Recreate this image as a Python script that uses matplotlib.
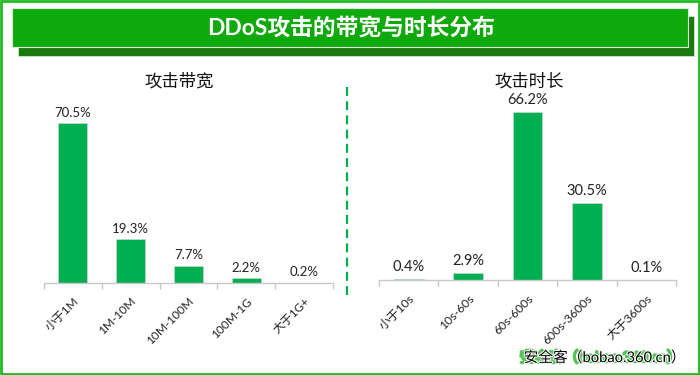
import matplotlib
matplotlib.use("Agg")
import matplotlib.pyplot as plt
import matplotlib.patheffects as pe
from matplotlib.patches import Rectangle, Ellipse
from matplotlib.lines import Line2D
import numpy as np

plt.rcParams['font.family'] = ['Lato', 'Noto Sans CJK SC', 'DejaVu Sans']

title = "DDoS攻击的带宽与时长分布"
left_title = "攻击带宽"
right_title = "攻击时长"
left_cats = ["小于1M", "1M-10M", "10M-100M", "100M-1G", "大于1G+"]
left_vals = [70.5, 19.3, 7.7, 2.2, 0.2]
right_cats = ["小于10s", "10s-60s", "60s-600s", "600s-3600s", "大于3600s"]
right_vals = [0.4, 2.9, 66.2, 30.5, 0.1]
watermark = "安全客（bobao.360.cn）"

W, H = 700, 375
fig = plt.figure(figsize=(W / 100, H / 100), dpi=100, facecolor="white")

def fx(x): return x / W
def fy(y): return 1 - y / H
def frect(x0, y0, x1, y1, **kw):
    fig.add_artist(Rectangle((fx(x0), fy(y1)), (x1 - x0) / W, (y1 - y0) / H,
                             transform=fig.transFigure, **kw))

# frame and banner
frect(1, 1, 699, 374, facecolor="none", edgecolor="#22B822", linewidth=2)
frect(18, 16, 694, 56, facecolor="#1A7A10", edgecolor="#CFE8CC", linewidth=0.6)
frect(12, 8, 688, 47, facecolor="#0FA90B", edgecolor="#D5EDD2", linewidth=0.8)
fig.text(fx(351), fy(28), title, color="white", fontsize=16.4, fontweight="bold",
         ha="center", va="center")

# divider
fig.add_artist(Line2D([fx(347), fx(347)], [fy(87), fy(297)], color="#00B050",
                      linewidth=1.6, linestyle=(0, (4, 2.4))))

def panel(x0, x1, base, px_per_unit, cats, vals, head, head_x, head_y, label_size, tick_size, offset):
    ymax = 75
    h = ymax * px_per_unit
    ax = fig.add_axes([fx(x0), fy(base), (x1 - x0) / W, h / H])
    ax.patch.set_alpha(0)
    pos = np.arange(len(cats))
    ax.bar(pos, vals, width=0.5, color="#00B050", edgecolor="#D9D9D9", linewidth=0.4)
    ax.set_xlim(-0.5, len(cats) - 0.5)
    ax.set_ylim(0, ymax)
    for s in ("top", "left", "right"):
        ax.spines[s].set_visible(False)
    ax.spines["bottom"].set_color("#C8C8C8")
    ax.spines["bottom"].set_linewidth(1)
    ax.yaxis.set_visible(False)
    ax.set_xticks(np.arange(len(cats) + 1) - 0.5, minor=True)
    ax.tick_params(axis="x", which="minor", length=4, color="#C8C8C8", width=1)
    ax.set_xticks(pos)
    ax.set_xticklabels(cats, rotation=45, ha="right", rotation_mode="anchor",
                       fontsize=tick_size, color="#222222")
    ax.tick_params(axis="x", which="major", length=0, pad=9)
    for p, v in zip(pos, vals):
        ax.annotate(f"{v}%", (p, v), xytext=(0, offset), textcoords="offset points",
                    ha="center", va="bottom", fontsize=label_size, color="#222222")
    fig.text(fx(head_x), fy(head_y), head, fontsize=12.5, color="#111111",
             ha="center", va="center")

panel(44, 333, 283, 2.27, left_cats, left_vals, left_title, 179, 81, 9.5, 8.6, 3)
panel(379, 676, 280, 2.54, right_cats, right_vals, right_title, 529, 81, 10.5, 8.8, 3.5)

# watermark
fig.add_artist(Ellipse((fx(530), fy(356)), 13 / W, 13 / H, transform=fig.transFigure,
                       facecolor="#E8D21A", edgecolor="#6CCB6C", linewidth=1.5))
fig.text(fx(686), fy(358), watermark, fontsize=10.6, color="black", ha="right", va="center",
         path_effects=[pe.Stroke(linewidth=1.6, foreground="#55C455", offset=(-3, 0)),
                       pe.withStroke(linewidth=1.4, foreground="white")])

fig.savefig("out.png", dpi=100, facecolor="white")
